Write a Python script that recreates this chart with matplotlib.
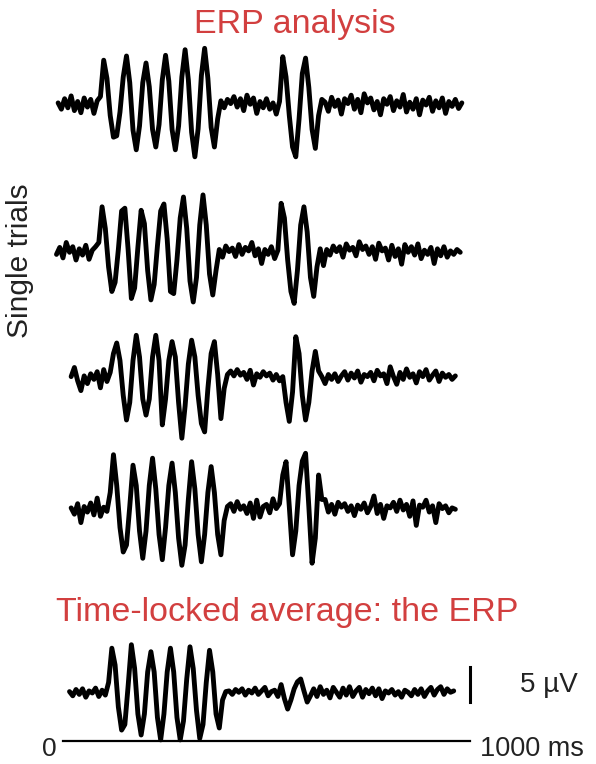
import numpy as np
import matplotlib.pyplot as plt

plt.rcParams['font.family'] = ['Liberation Sans', 'DejaVu Sans']

# sampled traces, one value (uV) every STEP ms, starting at *_start ms
STEP = 8

trial1_start = -12
trial1 = [0.3, -0.6, 0.9, -0.4, 1.3, -0.8, 0.5, -1.1, 1.0, -0.3, 0.8, -1.2, 0.6,
          1.2, 6.4, 3.8, -1.5, -4.6, -4.4, -1.0, 4.0, 7.0, 3.2, -3.6, -6.4, -3.0,
          3.2, 6.0, 2.6, -3.5, -6.0, -2.8, 3.6, 7.1, 3.4, -3.5, -6.4, -3.0, 4.0,
          7.9, 3.6, -3.9, -7.4, -3.4, 4.2, 8.1, 3.8, -3.2, -6.0, -2.0, 0.6,
          -0.4, 0.8, 0.2, 1.2, -0.3, 0.9, -0.8, 1.4, 0.1, 1.0, -1.2, 0.5, -0.4,
          0.9, -0.6, 0.3, -1.3, 0.5,
          6.9, 4.0, -1.5, -6.0, -7.4, -2.0, 4.5, 6.7, 2.5, -3.5, -6.2, -1.5, 0.8,
          0.4, -0.9, 1.1, -0.2, 0.7, -1.3, 0.9, 0.2, 1.4, -0.6, 0.8, -1.1, 1.6,
          0.3, 1.0, -0.7, 0.5, -1.4, 0.9, 0.1, 1.2, -0.8, 0.6, -0.3, 1.5, -1.0,
          0.4, -0.6, 0.9, -1.4, 0.7, 0.0, 1.1, -0.9, 0.6, -0.4, 1.0, -1.2, 0.5,
          -0.2, 0.8, -0.5, 0.3]

trial2_start = -16
trial2 = [-0.2, 0.8, -0.7, 1.5, 0.1, 0.9, -1.0, 0.6, -0.3, 1.1, -0.9, 0.4, 0.9,
          1.5, 6.6, 3.5, -2.0, -5.5, -4.2, 0.5, 6.0, 6.4, 0.5, -6.5, -5.0, 0.8,
          6.1, 4.2, -2.5, -6.7, -4.5, 1.0, 6.0, 7.0, 2.0, -5.5, -5.8, -1.0, 5.0,
          8.0, 3.5, -4.0, -7.0, -3.5, 4.0, 8.3, 4.0, -3.0, -6.0, -2.5, 0.5,
          -0.6, 1.0, 0.2, 0.7, -0.5, 1.2, -0.2, 0.8, 0.3, 1.5, -0.4, 0.6, -1.5,
          0.5, -0.2, 0.9, -0.8, 0.4,
          7.1, 5.0, -1.0, -5.5, -7.2, -2.5, 4.0, 6.6, 3.0, -3.5, -6.2, -2.0, 0.6,
          -1.8, 0.5, -0.3, 1.0, 0.2, 0.9, -0.6, 1.3, 0.4, 0.8, -0.4, 1.6, 0.5,
          1.0, -0.2, 0.9, -0.9, 1.4, 0.3, 0.7, -1.0, 1.1, -0.5, 0.6, -1.6, 1.2,
          0.1, 0.9, -0.3, 1.3, -0.8, 0.4, -0.2, 0.8, -1.5, 0.6, -0.4, 0.9, -0.6,
          0.3, -0.2, 0.5, 0.1]

trial3_start = 20
trial3 = [0.2, 1.5, -0.4, -1.8, 0.3, -0.8, 0.6, -0.2, 0.9, -1.4, 1.2, -0.5, 0.8,
          3.5, 5.0, 2.5, -2.5, -6.0, -3.5, 2.5, 6.1, 3.0, -3.0, -5.3, -3.0, 3.0,
          6.1, 2.5, -6.7, -3.0, 2.5, 5.2, 3.0, -3.5, -8.6, -4.0, 2.0, 5.4, 3.0,
          -2.5, -6.5, -7.7, -1.5, 3.5, 5.2, 0.5, -5.8, -1.5, 0.5,
          1.0, 0.3, 1.2, 0.4, 0.8, -0.2, 1.1, -1.0, 0.6, 0.1, 0.9, 0.3, 0.7,
          -0.3, 0.5, -0.4, 0.2,
          -3.5, -6.2, -2.0, 5.9, 3.5, -2.5, -6.0, -3.5, 1.0, 3.8, 1.0, 0.2,
          -0.8, 0.5, -0.2, 0.6, -0.5, 0.3, 0.9, -0.3, 0.7, 0.0, 1.0, -0.6, 0.5,
          0.2, 0.8, -0.4, 1.1, 0.3, 0.6, -0.8, 1.6, 0.2, -0.9, 0.8, -0.2, 1.3,
          0.1, 0.6, -0.7, 0.9, 0.2, 1.2, -0.3, 0.4, 1.0, -0.5, 0.7, 0.1, 0.5,
          -0.2, 0.3]

trial4_start = 20
trial4 = [0.3, -0.6, 0.9, -1.8, 0.5, -0.3, 1.0, -0.7, 1.7, -0.9, 0.4, -0.2, 2.5,
          7.9, 3.5, -2.5, -6.0, -5.0, 0.5, 6.4, 3.5, -3.0, -6.9, -3.0, 3.5, 7.4,
          3.0, -3.5, -7.1, -2.5, 3.5, 6.7, 2.5, -4.0, -7.9, -5.0, 1.5, 6.9, 3.0,
          -3.5, -7.4, -3.5, 2.5, 6.2, 2.5, -3.5, -6.4, -1.5, 0.5,
          0.9, -0.2, 1.2, 0.1, 0.6, -0.5, 1.0, -1.2, 1.4, -1.0, 0.5, 0.8, -0.4,
          1.6, 0.2, 0.9,
          5.0, 6.9, 0.5, -6.4, -3.0, 3.5, 7.0, 8.1, 0.5, -7.6, -4.0, 5.0, 1.5,
          1.5, -0.3, 0.8, -0.6, 1.1, 0.4, 0.9, -0.2, 0.6, -0.8, 0.7, 0.1, 1.0,
          -0.4, 0.5, 2.0, -0.5, 0.8, -1.2, 0.6, 0.3, 1.1, -0.2, 1.4, 0.0, 0.8,
          -0.9, 1.3, -2.2, 0.7, 0.4, 1.4, -0.3, 0.6, -1.8, 0.9, 0.2, 0.6, -0.4,
          0.3, 0.1]

avg_start = 16
avg_erp = [0.2, -0.4, 0.5, -0.2, 0.6, -0.6, 0.3, 0.0, 0.7, -0.5, 0.4, -0.3, 1.5,
           6.4, 4.0, -2.0, -5.3, -4.5, 1.0, 6.9, 3.5, -3.0, -6.0, -3.0, 3.0, 5.9,
           3.0, -3.5, -6.7, -3.0, 3.0, 6.4, 3.0, -3.5, -6.7, -4.0, 2.0, 6.6, 3.5,
           -2.5, -6.5, -4.5, 1.5, 6.1, 3.0, -3.0, -5.0, -1.0, 0.2,
           0.3, -0.2, 0.5, 0.1, 0.6, -0.3, 0.4, 0.0, 0.7, -0.2, 0.3, 0.8, -0.4, 0.2,
           0.4, -0.5, 1.2, -0.8, -2.3, -1.0, 0.6, 1.6, 2.0, 0.3, -1.3, -0.4,
           0.6, -0.5, 0.9, -0.2, 0.4, -0.7, 0.8, 0.1, -0.6, 0.7, -0.3, 0.9, -0.5,
           0.3, 0.8, -0.6, 0.5, -0.1, 0.7, -0.4, 0.6, -0.8, 0.3, 0.0, 0.5, -0.3,
           0.2, -0.6, 0.4, 0.1, -0.4, 0.5, -0.2, 0.6, -0.5, 0.3, 0.8, -0.3, 0.5,
           0.9, -0.2, 0.6, 0.1, 0.3]

time_axis_ms = [0, 1000]
scale_uv = 5

# layout (pixels of the 596x764 picture)
W, H = 596, 764
X0 = 63            # pixel of t = 0
PX_PER_MS = 0.407
PX_PER_UV = 7.0
RED = '#d23f3f'

fig = plt.figure(figsize=(W / 100, H / 100), dpi=100)
ax = fig.add_axes([0, 0, 1, 1])
ax.set_xlim(-X0 / PX_PER_MS, (W - X0) / PX_PER_MS)
ax.set_ylim(-H / PX_PER_UV, 0)
ax.axis('off')


def row(ypx):
    # baseline of a trace, given its pixel row
    return -ypx / PX_PER_UV


traces = [(trial1_start, trial1, 105),
          (trial2_start, trial2, 253),
          (trial3_start, trial3, 378),
          (trial4_start, trial4, 510),
          (avg_start, avg_erp, 693)]

for start, vals, ypx in traces:
    t = start + STEP * np.arange(len(vals))
    ax.plot(t, np.array(vals) + row(ypx), color='black', lw=3.5,
            solid_joinstyle='round', solid_capstyle='round')

# time axis and scale bar
ax.plot(time_axis_ms, [row(741)] * 2, color='black', lw=1.6)
ax.plot([time_axis_ms[1]] * 2, [row(702), row(702) + scale_uv],
        color='black', lw=2.2)


def fx(x):
    return x / W


def fy(y):
    return 1 - y / H


fig.text(fx(295), fy(33), 'ERP analysis', color=RED, fontsize=24.5,
         ha='center', va='baseline')
fig.text(fx(287), fy(621), 'Time-locked average: the ERP', color=RED,
         fontsize=24.5, ha='center', va='baseline')
fig.text(fx(20), fy(261), 'Single trials', color='#222222', fontsize=21.5,
         rotation=90, ha='center', va='center')
fig.text(fx(520), fy(692), '5 \u00b5V', color='#222222', fontsize=20,
         ha='left', va='baseline')
fig.text(fx(49), fy(756), '0', color='#222222', fontsize=19,
         ha='center', va='baseline')
fig.text(fx(480), fy(756), '1000 ms', color='#222222', fontsize=19.5,
         ha='left', va='baseline')

fig.savefig('out.png', dpi=100)
